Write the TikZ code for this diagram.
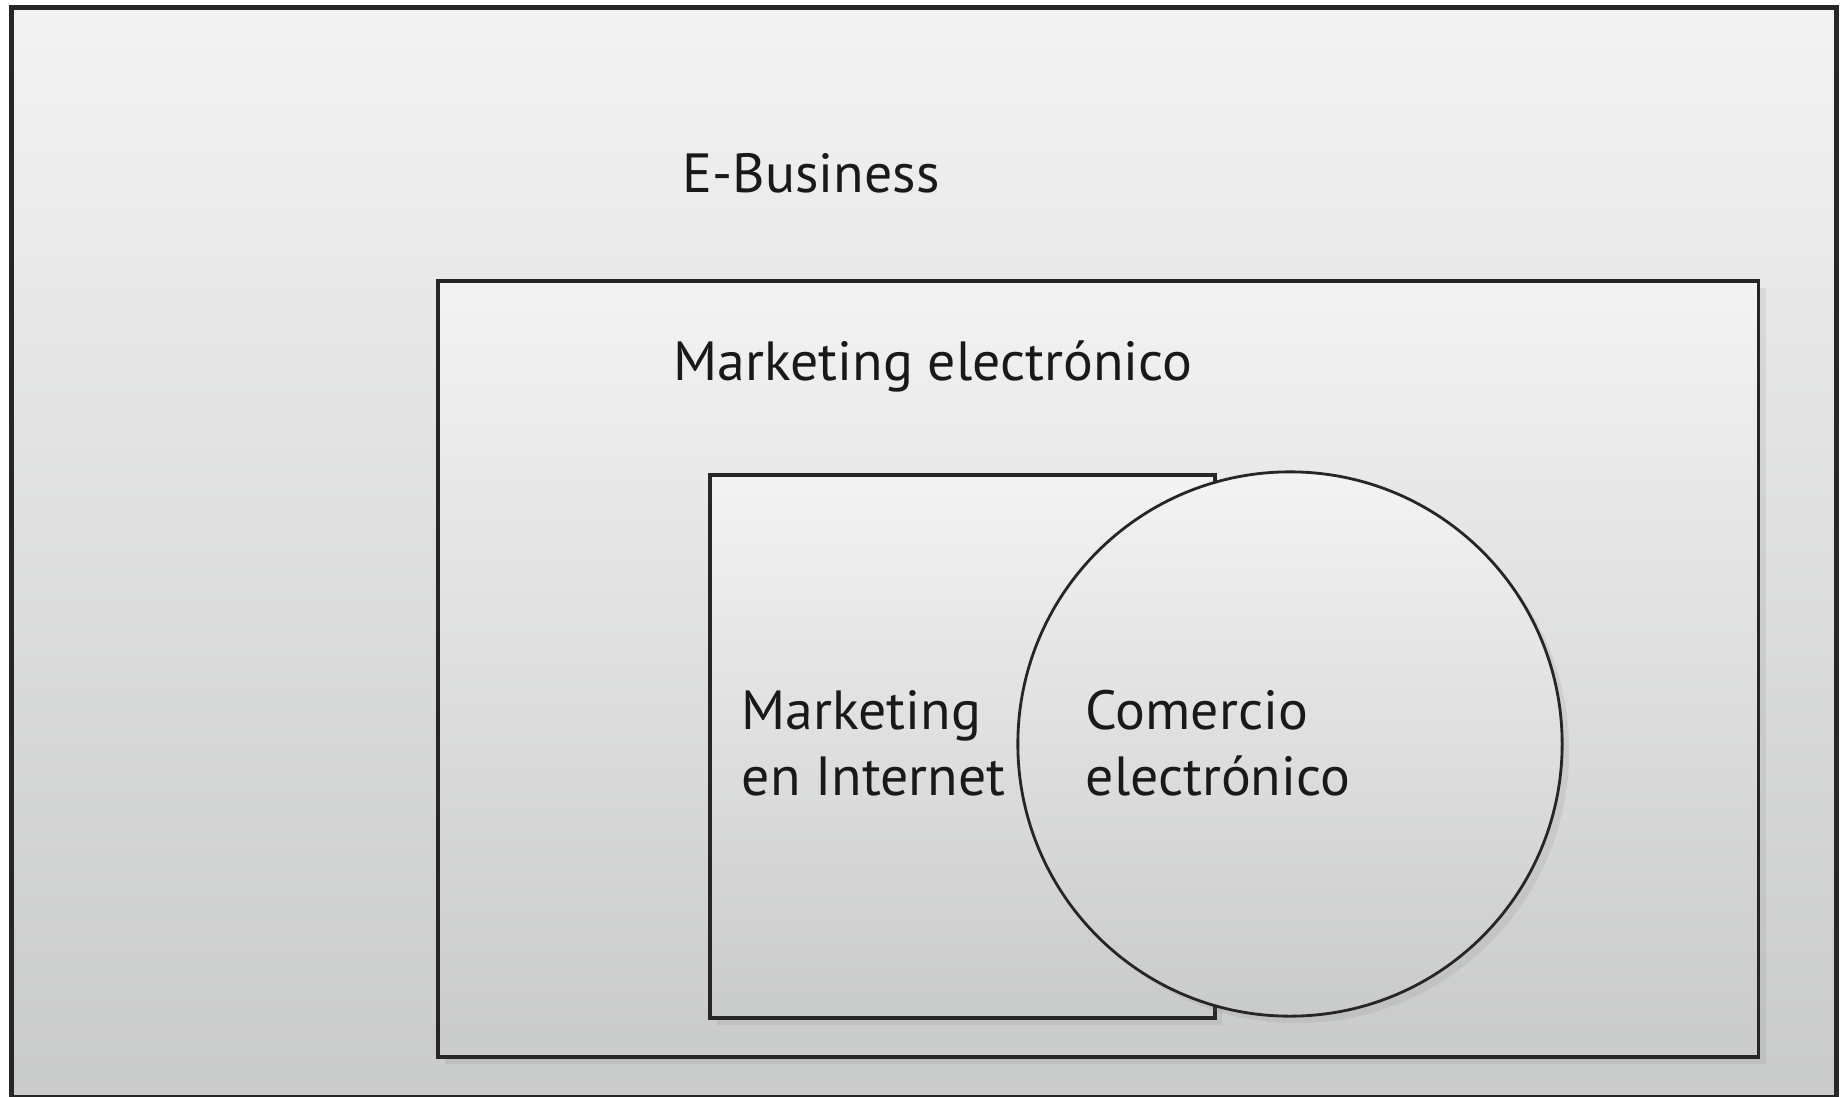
\documentclass[tikz,border=0pt]{standalone}
\usepackage{fontspec}
\setmainfont{PT Sans}[FakeStretch=1.01]
\usetikzlibrary{shadows}
\definecolor{gtop}{HTML}{F3F3F3}
\definecolor{gbot}{HTML}{C9CACA}
\tikzset{
  box/.style={draw=black!85, inner sep=0pt, anchor=north west, top color=gtop, bottom color=gbot},
  lbl/.style={font=\fontsize{15.7}{18.6}\selectfont, inner sep=0pt, anchor=base west, align=left, text=black!90}
}
\begin{document}
\begin{tikzpicture}[x=0.01cm,y=-0.01cm]
\useasboundingbox (0,0) rectangle (1844,1096);
\fill[white] (0,0) rectangle (1844,1096);
\node[box, line width=1.4pt, minimum width=18.24cm, minimum height=10.89cm] (ebiz) at (9,5) {};
\node[box, line width=1.0pt, minimum width=13.2cm, minimum height=7.76cm,
      drop shadow={opacity=0.15, shadow xshift=2pt, shadow yshift=-2pt}] (mkt) at (436,279) {};
\node[box, line width=1.0pt, minimum width=5.05cm, minimum height=5.43cm,
      drop shadow={opacity=0.15, shadow xshift=2pt, shadow yshift=-2pt}] (mint) at (708,473) {};
\node[circle, draw=black!85, line width=0.8pt, inner sep=0pt, minimum size=5.44cm,
      top color=gtop, bottom color=gbot,
      drop shadow={opacity=0.15, shadow xshift=2pt, shadow yshift=-2pt}] (com) at (1290,744) {};
\node[lbl] (tebiz) at (682,192) {E-Business};
\node[lbl] (tmkt) at (673,380) {Marketing electrónico};
\node[lbl] (tmint) at (741,795) {Marketing\\en Internet};
\node[lbl] (tcom) at (1085,795) {Comercio\\electrónico};
\end{tikzpicture}
\end{document}
